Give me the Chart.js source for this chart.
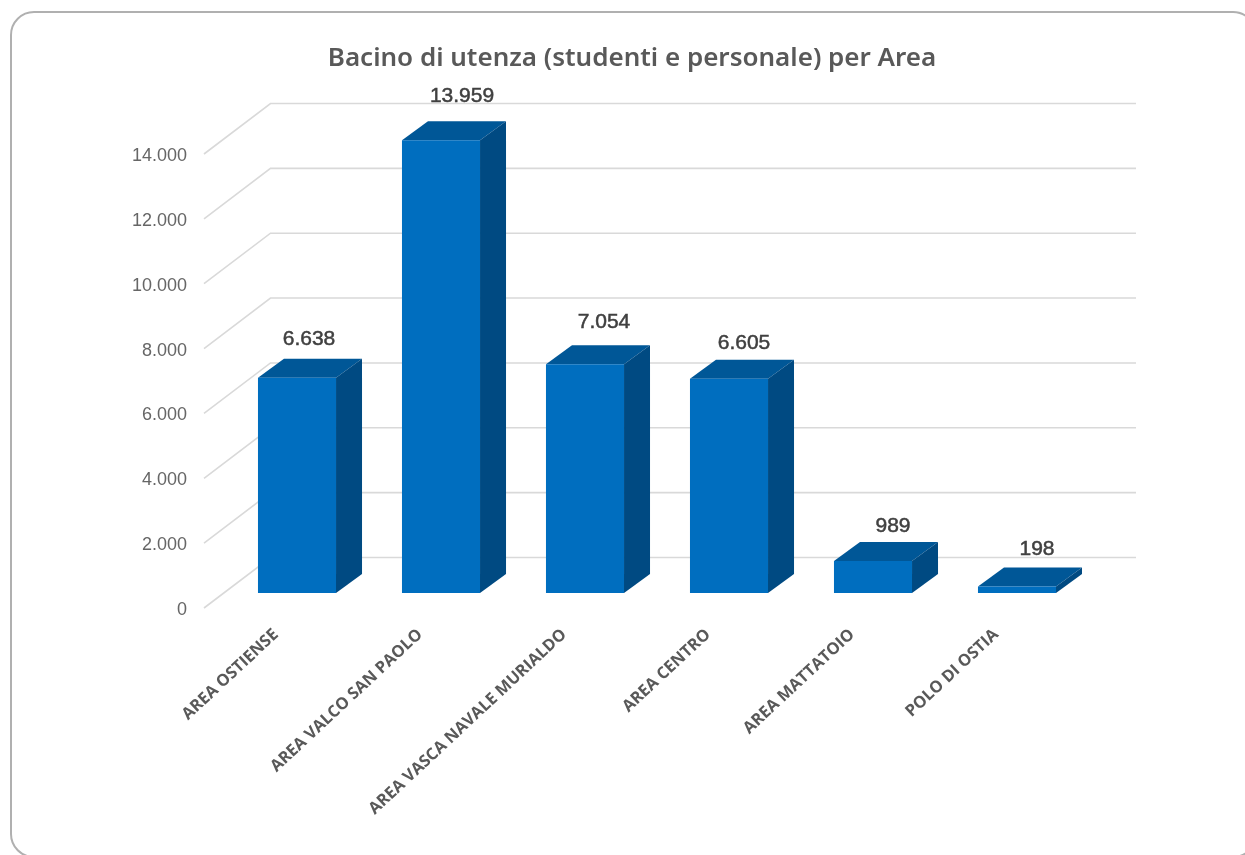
<!DOCTYPE html>
<html><head><meta charset="utf-8">
<style>
html,body{margin:0;padding:0;background:#fff;}
#wrap{position:absolute;left:0;top:0;width:1245px;height:855px;overflow:hidden;}
#frame{position:absolute;left:10px;top:11px;width:1247px;height:847px;border:2px solid #b0b0b0;border-radius:24px;box-sizing:border-box;}
canvas{position:absolute;left:0;top:0;}
</style>
<script src="https://cdn.jsdelivr.net/npm/chart.js@4"></script>
</head><body>
<div id="wrap"><div id="frame"></div><canvas id="c" width="1245" height="855"></canvas></div>
<script>
const chartTitle = 'Bacino di utenza (studenti e personale) per Area';
const categories = ['AREA OSTIENSE','AREA VALCO SAN PAOLO','AREA VASCA NAVALE MURIALDO','AREA CENTRO','AREA MATTATOIO','POLO DI OSTIA'];
const seriesValues = [6638,13959,7054,6605,989,198];
const labelShiftX = [12,21,19,15,20,20];
const labelShiftY = [-39,-44,-42,-36,-35,-37];

const fmt = v => String(v).replace(/\B(?=(\d{3})+$)/g,'.');
const WALL = {dx:66.5, dy:-50.5};
const BAR = {dx:21, dy:-15, depthX:26, depthY:-19};

const threeD = {
  id:'threeD',
  afterLayout(chart){ chart.titleBlock.left = 0; chart.titleBlock.right = 1264; },
  beforeDatasetsDraw(chart){
    const {ctx, chartArea:a, scales:{y}} = chart;
    ctx.save();
    ctx.strokeStyle = '#d9d9d9'; ctx.lineWidth = 1.6;
    y.ticks.forEach(t=>{
      const p = y.getPixelForValue(t.value);
      ctx.beginPath();
      ctx.moveTo(a.left,p);
      ctx.lineTo(a.left+WALL.dx,p+WALL.dy);
      ctx.lineTo(1136,p+WALL.dy);
      ctx.stroke();
    });
    ctx.restore();
    ctx.save();
    ctx.translate(BAR.dx,BAR.dy);
    chart.getDatasetMeta(0).data.forEach(b=>{
      const l=b.x-b.width/2, r=b.x+b.width/2, t=b.y, bot=b.base;
      ctx.fillStyle='#005797';
      ctx.beginPath();ctx.moveTo(l,t);ctx.lineTo(l+BAR.depthX,t+BAR.depthY);ctx.lineTo(r+BAR.depthX,t+BAR.depthY);ctx.lineTo(r,t);ctx.closePath();ctx.fill();
      ctx.fillStyle='#004a82';
      ctx.beginPath();ctx.moveTo(r,t);ctx.lineTo(r+BAR.depthX,t+BAR.depthY);ctx.lineTo(r+BAR.depthX,bot+BAR.depthY);ctx.lineTo(r,bot);ctx.closePath();ctx.fill();
    });
  },
  afterDatasetsDraw(chart){
    const {ctx} = chart;
    ctx.restore();
    ctx.save();
    ctx.font = '21px "Liberation Sans"';
    ctx.fillStyle = '#404040';
    ctx.strokeStyle = '#404040';
    ctx.lineWidth = 0.5;
    ctx.textAlign='center'; ctx.textBaseline='middle';
    chart.getDatasetMeta(0).data.forEach((b,i)=>{
      const txt = fmt(seriesValues[i]), x = b.x+BAR.dx+labelShiftX[i], y = b.y+BAR.dy+labelShiftY[i];
      ctx.fillText(txt,x,y);
      ctx.strokeText(txt,x,y);
    });
    ctx.restore();
  }
};

new Chart(document.getElementById('c'),{
  type:'bar',
  data:{labels:categories,datasets:[{label:'Bacino di utenza',data:seriesValues,backgroundColor:'#006ebf',borderWidth:0,barPercentage:0.542,categoryPercentage:1}]},
  plugins:[threeD],
  options:{
    responsive:false,animation:false,
    layout:{padding:{left:0,right:177,top:0,bottom:0}},
    plugins:{
      legend:{display:false},tooltip:{enabled:false},
      title:{display:true,text:chartTitle,color:'#595959',font:{family:'"Noto Sans"',size:26,weight:'600',lineHeight:1.2},padding:{top:43,bottom:79.8}}
    },
    scales:{
      x:{
        afterFit(s){s.height=247;},
        grid:{display:false,drawTicks:false},border:{display:false},
        ticks:{color:'#595959',font:{family:'"Open Sans"',size:16.4,weight:'700'},minRotation:43,maxRotation:43,padding:17,autoSkip:false}
      },
      y:{
        min:0,max:14000,
        afterFit(s){s.width=204;},
        grid:{display:false,drawTicks:false},border:{display:false},
        ticks:{stepSize:2000,color:'#666666',font:{family:'"Liberation Sans"',size:18},padding:17,labelOffset:2,callback:v=>fmt(v)}
      }
    }
  }
});
</script>
</body></html>
